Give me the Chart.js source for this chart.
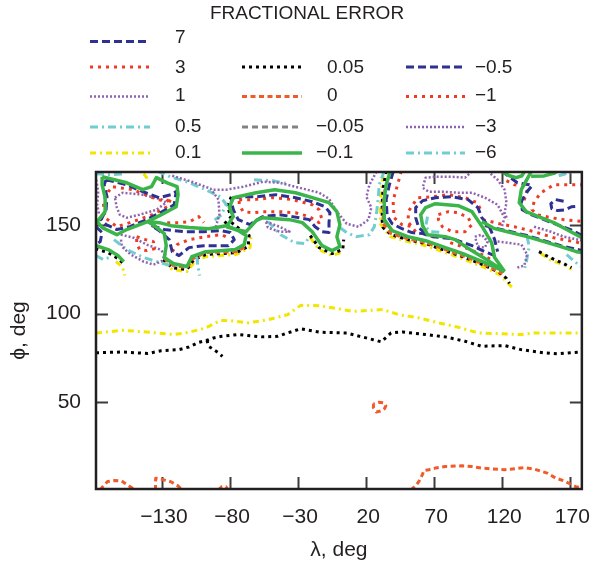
<!DOCTYPE html>
<html>
<head>
<meta charset="utf-8">
<script src="https://cdn.jsdelivr.net/npm/chart.js@4.4.0/dist/chart.umd.min.js"></script>
<style>
  html, body { margin: 0; padding: 0; background: #fff; }
  #wrap { width: 596px; height: 566px; }
</style>
</head>
<body>
<div id="wrap"><canvas id="chart" width="596" height="566"></canvas></div>
<script>
// Fractional error contours over (lambda, phi), degrees.

const lambdaTicks = [-130, -80, -30, 20, 70, 120, 170];
const phiTicks = [50, 100, 150];

// long open contours across the middle of the map
const line01Lam = [-178.5, -158.6, -139.2, -121.1, -110.2, -98.1, -87.2, -81.2, -66.7, -52.2, -37.8, -28.1, -13.6, 10.6, 32.3, 44.3, 58.8, 73.3, 87.8, 102.3, 119.3, 133.8, 143.4, 155.5, 178.5];
const line01Phi = [89.1, 90.6, 89.5, 88.2, 89.5, 91.9, 96.1, 96.2, 94.8, 96.6, 99.4, 104.7, 104.5, 101.3, 102.3, 99.4, 97.6, 94.8, 92.3, 89.1, 88.7, 88.2, 89.1, 89.1, 89.1];

const line005Lam = [-178.5, -158.6, -140.4, -130.7, -117.5, -110.2, -103.0, -95.7, -92.1, -86.1, -74.0, -57.1, -45.0, -37.8, -28.1, -13.6, 5.7, 15.4, 25.1, 31.1, 38.3, 46.8, 63.7, 78.2, 92.7, 104.8, 121.7, 133.8, 150.7, 160.3, 178.5];
const line005Phi = [77.9, 78.4, 77.5, 79.1, 79.7, 81.2, 83.8, 85.3, 86.3, 87.2, 88.2, 86.9, 87.2, 89.1, 91.5, 89.5, 89.1, 87.2, 85.3, 84.1, 89.1, 89.7, 88.2, 86.9, 84.4, 81.6, 82.0, 79.7, 77.9, 77.3, 78.4];
const spur005Lam = [-97.0, -95.7, -92.1, -88.5, -85.6];
const spur005Phi = [85.0, 81.6, 79.7, 77.9, 75.9];

// zero contour near the south edge and one small closed loop
const zeroLoop = [[25.5, 49.2], [25.3, 47.0], [27.5, 44.5], [30.5, 45.0], [33.5, 46.4], [34.5, 48.0], [32.5, 49.7], [29.5, 50.0], [27, 49.5], [25.5, 49.2]];
const zeroArcA = [[-175.5, 0.5], [-173, 2.8], [-170, 5.2], [-164.6, 5.8], [-159.7, 5.6], [-157.3, 4.3], [-152.5, 1.8], [-150, 0.5]];
const zeroArcB = [[-134.8, 0.5], [-134.8, 4.4], [-134.6, 7.1], [-131.5, 6.7], [-127, 5.8], [-123.5, 5.1], [-118.5, 2.9], [-115, 0.5]];
const zeroArcC = [[-88.5, 0.5], [-86, 2.3], [-83, 2.3], [-81.5, 0.5]];
const zeroArcD = [[52.8, 0.5], [56.4, 2.8], [58.8, 5.3], [61.3, 9.1], [62.5, 11.5], [66.1, 11.9], [70.9, 12.8], [78.2, 13.7], [90.3, 14.1], [97.5, 13.7], [104.8, 12.8], [112, 12.3], [121.7, 11.9], [131.3, 12.6], [136.2, 13.1], [143.4, 12.3], [148.3, 11.1], [153, 10.0], [159.1, 7.2], [165.1, 5.7], [171.2, 3.4], [174.8, 2.1], [178.5, 1.7]];
const zeroEdgeW = [[-128.3, 131.1], [-121.8, 127.2], [-111.7, 126.0], [-107.3, 131.1], [-97.9, 134.5], [-75.4, 135.0], [-67.5, 138.4]];
const zeroEdgeE = [[33.8, 170.0], [32.5, 161.5], [32.5, 151.0], [38.3, 145.2], [50.6, 142.3], [63.7, 140.1], [78.2, 136.2], [92.7, 132.2], [107.2, 127.7], [120.2, 122.6]];

// -0.1 (solid) cells along the north edge
const cellW1 = [[-174.0, 177.3], [-155.9, 173.9], [-144.2, 170.0], [-137.7, 171.7], [-134.1, 176.8], [-126.2, 173.9], [-118.9, 171.7], [-118.2, 167.2], [-119.6, 160.4], [-130.5, 155.9], [-140.6, 152.0], [-155.9, 147.5], [-163.2, 144.6], [-174.0, 148.6], [-177.6, 152.0], [-171.8, 157.6], [-171.8, 165.5], [-174.0, 172.8], [-174.0, 177.3]];
const cellW2 = [[-140.6, 152.0], [-132.0, 151.4], [-123.3, 149.7], [-110.2, 148.6], [-95.7, 148.0], [-82.7, 149.7], [-74.0, 146.9], [-68.2, 144.1], [-69.6, 139.0], [-76.2, 136.2], [-87.0, 135.6], [-97.9, 135.0], [-108.1, 132.2], [-111.7, 126.6], [-121.8, 128.3], [-128.3, 131.7], [-126.9, 138.4], [-128.3, 145.2], [-135.6, 149.7], [-140.6, 152.0]];
const cellW3 = [[-82.7, 149.1], [-77.6, 154.8], [-80.5, 159.9], [-77.6, 165.5], [-60.9, 168.3], [-47.2, 170.0], [-31.9, 168.3], [-19.6, 165.5], [-7.3, 162.7], [-1.5, 157.6], [0.7, 150.3], [-1.5, 143.5], [0.7, 137.9], [-5.1, 135.6], [-12.4, 138.4], [-19.6, 146.3], [-26.9, 151.4], [-36.3, 153.1], [-55.9, 154.2], [-60.9, 152.5], [-68.2, 146.3], [-75.4, 147.5], [-82.7, 149.1]];
const edgeW0 = [[-179, 138.6], [-169.6, 136.2], [-162.4, 132.8], [-158.1, 129.4]];
const cellE1 = [[37.8, 180.5], [34.7, 172.8], [33.3, 164.4], [33.3, 153.1], [39.1, 146.9], [50.6, 143.5], [63.7, 141.2], [78.2, 137.3], [92.7, 133.4], [107.2, 128.8], [121.7, 123.8]];
const cellE2 = [[121.7, 123.8], [114.4, 131.7], [112.2, 140.1], [105.7, 148.6], [97.8, 157.6], [87.6, 161.0], [70.9, 162.1], [63.7, 159.9], [60.1, 155.9], [61.5, 149.7], [65.1, 144.6], [78.2, 143.5], [85.4, 141.8], [96.3, 136.2], [110.8, 129.4], [121.7, 123.8]];
const cellE3 = [[105.0, 152.0], [114.4, 148.0], [123.8, 146.3], [138.3, 143.5], [150.7, 140.7], [163.0, 137.9], [174.5, 135.0], [179.5, 134.5]];
const cellE4 = [[141.5, 180.5], [134.0, 170.0], [132.5, 162.7], [137.6, 157.6], [148.5, 154.2], [157.9, 151.4], [167.3, 147.5], [179.5, 142.5]];
const cellE5 = [[119.5, 180.5], [125.3, 177.9], [130.3, 176.8], [134.5, 177.9], [136.5, 180.5]];
const cellE6 = [[141.2, 177.6], [150.7, 177.8], [157.9, 179.2], [160.5, 180.5]];

// 0.05 (black) and 0.1 (yellow) edges hugging the cells
const blackW1 = [[-179, 136.7], [-169.6, 134.5], [-162.4, 131.1], [-157.4, 127.7]];
const blackW2 = [[-129.1, 130.5], [-122.5, 126.0], [-111.7, 124.9], [-106.6, 130.5], [-97.9, 133.4], [-87.0, 133.9], [-75.4, 134.5], [-66.7, 137.9], [-66.0, 144.1], [-73.3, 148.0], [-79.8, 152.0]];
const blackW3 = [[-21.1, 144.1], [-14.6, 137.3], [-5.1, 133.9], [2.8, 136.2], [3.5, 141.8]];
const blackW4 = [[-79.1, 166.0], [-82.0, 160.4], [-79.1, 154.8], [-84.1, 150.8]];
const blackE1 = [[34.7, 180.5], [32.5, 171.1], [31.8, 162.7], [31.8, 152.0], [32.5, 148.6], [38.3, 144.6], [50.6, 141.8], [63.7, 139.6], [78.2, 135.6], [92.7, 131.7], [107.2, 127.2], [118.0, 123.2], [123.1, 119.9], [125.3, 117.1]];
const blackE2 = [[147.0, 135.0], [155.0, 131.7], [165.1, 128.3], [170.9, 126.0]];
const yellowW0 = [[-143.5, 179.0], [-141.3, 176.8], [-140.6, 174.5]];
const yellowW1 = [[-163.9, 129.4], [-160.3, 127.2], [-158.1, 124.4], [-157.4, 121.5]];
const yellowW2 = [[-129.1, 129.4], [-122.5, 124.9], [-111.7, 123.8], [-105.9, 129.4], [-97.9, 132.2], [-87.0, 132.8], [-75.4, 133.4], [-65.3, 137.3], [-64.6, 144.1]];
const yellowW3 = [[-21.1, 142.9], [-14.6, 136.2], [-5.1, 132.8], [3.5, 135.0]];
const yellowE1 = [[32.5, 177.9], [31.1, 168.9], [30.4, 160.4], [30.4, 150.8], [37.6, 143.5], [50.6, 140.7], [63.7, 138.4], [78.2, 134.5], [92.7, 130.5], [107.2, 126.0], [118.0, 122.1], [124.5, 117.0], [127.4, 114.7]];
const yellowE2 = [[148.5, 133.9], [156.4, 130.0], [166.6, 127.2], [170.9, 124.9]];

// -0.5 / 7 (blue dashed)
const blueW0 = [[-178.5, 149.1], [-174.0, 145.8], [-175.4, 140.7], [-178.5, 139.0]];
const blueW1 = [[-171.1, 175.6], [-155.9, 172.8], [-144.2, 168.9], [-132.0, 165.5], [-123.3, 167.2], [-119.6, 168.9], [-121.1, 161.5], [-129.8, 157.6], [-141.3, 153.1], [-153.7, 149.1], [-163.2, 147.5], [-171.1, 150.3], [-174.7, 153.1], [-171.1, 158.7], [-170.4, 166.0], [-172.5, 172.8], [-171.1, 175.6]];
const blueW2 = [[-137.7, 149.7], [-128.3, 147.5], [-113.8, 146.3], [-99.3, 146.3], [-87.0, 146.9], [-79.8, 145.8], [-76.9, 141.8], [-81.2, 138.4], [-99.3, 138.4], [-110.2, 137.3], [-117.5, 132.8], [-122.5, 135.0], [-124.7, 141.8], [-132.0, 146.9], [-137.7, 149.7]];
const blueW3 = [[-77.6, 165.5], [-70.4, 166.0], [-60.9, 166.0], [-46.4, 167.2], [-31.9, 165.5], [-19.6, 163.2], [-10.2, 160.4], [-6.6, 157.0], [-7.3, 151.4], [-7.3, 145.8], [-12.4, 146.3], [-17.5, 149.1], [-21.8, 153.1], [-34.1, 154.8], [-43.6, 155.9], [-55.9, 154.8], [-62.4, 152.0], [-65.3, 150.3], [-74.0, 153.1], [-77.6, 158.7], [-79.1, 163.2], [-77.6, 165.5]];
const blueE1 = [[40.0, 180.5], [36.9, 172.3], [34.7, 164.4], [35.4, 155.3], [39.1, 150.8], [46.3, 148.0], [53.5, 145.8], [61.5, 145.2], [68.8, 143.5], [83.3, 142.4], [97.8, 138.4], [107.2, 135.0], [114.4, 132.8]];
const blueE2 = [[63.7, 145.2], [58.6, 148.6], [56.4, 154.2], [56.4, 159.9], [61.5, 163.8], [70.9, 165.5], [83.3, 166.0], [94.9, 164.4], [102.1, 159.9], [105.0, 154.2], [110.8, 148.6], [114.4, 141.8], [116.6, 135.0]];
const blueE3 = [[119.5, 180.5], [131.1, 173.9], [139.8, 172.8], [141.9, 172.3], [137.6, 168.3], [134.0, 163.2], [134.7, 158.7], [141.2, 155.9], [150.7, 153.1], [160.1, 150.3], [170.2, 147.5], [179.5, 143.9]];
const blueE4 = [[107.2, 149.7], [123.1, 146.9], [138.3, 144.1], [150.7, 141.2], [163.0, 138.4], [179.5, 135.5]];
const peak7 = [[165.1, 163.5], [159.3, 164.4], [155.7, 162.1], [156.4, 159.3], [160.8, 158.2], [166.6, 158.7], [170.9, 160.4], [175.3, 160.7]];

// -1 / 3 (red dotted)
const redW1 = [[-166.0, 171.7], [-151.5, 170.0], [-137.0, 165.5], [-126.9, 163.2], [-123.3, 165.5], [-126.2, 160.4], [-137.0, 155.9], [-153.7, 151.4], [-163.2, 149.1], [-171.8, 154.2], [-173.2, 163.2], [-169.6, 168.9], [-166.0, 171.7]];
const redW2 = [[-126.2, 151.4], [-117.5, 151.4], [-109.5, 152.0], [-103.0, 154.8], [-99.3, 151.4]];
const redW3 = [[-148.6, 143.5], [-142.1, 141.8], [-136.3, 140.7], [-135.6, 136.7], [-141.3, 135.6], [-146.4, 136.2], [-148.6, 139.6], [-148.6, 143.5]];
const redW4 = [[-122.5, 135.0], [-118.9, 139.0], [-110.2, 141.8], [-97.9, 143.5], [-86.3, 144.6], [-81.2, 142.9]];
const redW5 = [[-73.3, 164.4], [-63.1, 164.4], [-48.6, 165.5], [-34.1, 164.4], [-19.6, 161.5], [-14.6, 158.7], [-12.4, 153.1], [-14.6, 151.4], [-21.8, 154.8], [-31.9, 157.0], [-43.6, 157.6], [-55.9, 157.6], [-63.1, 157.0], [-70.4, 157.6], [-73.3, 161.5], [-73.3, 164.4]];
const redE1 = [[45.8, 180.5], [42.7, 171.7], [39.8, 163.8], [40.5, 154.2], [46.3, 150.3], [54.3, 149.1]];
const redE2 = [[56.4, 146.3], [50.6, 152.0], [51.4, 158.2], [57.9, 165.5], [68.8, 166.0], [80.4, 167.2], [92.7, 165.5], [101.4, 162.7], [105.0, 157.6]];
const redE3 = [[73.1, 155.9], [80.4, 157.6], [87.6, 157.0], [94.9, 154.2], [97.8, 150.3], [92.7, 146.3], [83.3, 146.3], [76.0, 149.1], [73.1, 153.1], [73.1, 155.9]];
const redE4 = [[105.7, 153.1], [118.0, 150.8], [128.9, 149.1], [143.4, 146.3], [157.9, 142.9], [172.4, 140.7], [179.5, 139.6]];
const redE5 = [[81.8, 140.1], [92.7, 137.3], [105.0, 133.4], [113.0, 130.0]];
const redE6 = [[179.5, 172.8], [170.2, 172.8], [157.9, 172.8], [148.5, 168.3], [143.4, 163.2], [141.9, 158.7], [145.6, 155.9], [155.7, 154.2], [165.1, 153.1], [179.5, 152.0]];
const redE7 = [[123.1, 175.1], [128.9, 172.8], [137.6, 171.7], [138.3, 168.9], [136.2, 164.4], [134.7, 162.1]];

// -3 / 1 (purple dotted)
const purpleW0 = [[-178.3, 175.6], [-176.9, 168.9], [-177.6, 161.5], [-176.2, 155.9]];
const purpleW1 = [[-164.6, 165.5], [-158.8, 168.3], [-144.2, 167.2], [-129.8, 164.4], [-126.9, 162.7], [-134.1, 158.7], [-146.4, 155.9], [-155.9, 154.2], [-161.0, 155.9], [-163.2, 159.9], [-164.6, 165.5]];
const purpleW2 = [[-160.3, 144.6], [-150.8, 142.9], [-141.3, 139.0], [-131.2, 136.2], [-127.6, 133.4], [-130.5, 129.4], [-136.3, 127.7], [-143.5, 129.4], [-153.0, 133.4], [-159.5, 137.9], [-160.3, 142.9]];
const purpleW3 = [[-122.5, 177.9], [-108.1, 174.5], [-94.3, 170.6], [-88.5, 164.4], [-87.8, 155.9], [-90.7, 148.6]];
const purpleW4 = [[-92.1, 170.0], [-82.7, 170.0], [-70.4, 171.7], [-55.9, 174.5], [-43.6, 173.9], [-29.0, 171.1], [-14.6, 168.3], [-7.3, 164.9], [-1.5, 157.6], [5.7, 150.8], [14.4, 149.1], [21.7, 153.1], [23.8, 159.9], [20.2, 166.0], [22.4, 172.8], [27.8, 180.5]];
const purpleW5 = [[-53.7, 152.0], [-43.6, 149.1], [-36.3, 146.3], [-43.6, 146.3], [-52.2, 148.6], [-53.7, 152.0]];
const purpleE1 = [[97.8, 180.5], [92.7, 176.8], [83.3, 177.3], [70.9, 177.3], [63.7, 176.8], [61.5, 171.1], [65.9, 168.9], [76.0, 168.9], [87.6, 168.3], [97.8, 168.3], [107.2, 165.5], [116.6, 161.5], [121.7, 154.2], [119.5, 148.6]];
const purpleE2 = [[109.3, 180.5], [116.6, 175.6], [121.7, 170.0], [123.1, 162.7], [121.7, 157.0], [123.8, 153.1]];
const purpleE3 = [[99.9, 143.5], [105.0, 144.6], [109.3, 140.7], [107.2, 137.3], [102.1, 137.9], [99.9, 143.5]];
const purpleE4 = [[116.6, 140.7], [134.0, 139.0], [138.3, 133.4], [136.2, 127.2], [131.1, 126.0]];
const purpleE5 = [[143.4, 149.1], [155.7, 146.3], [165.1, 143.5], [179.5, 141.2]];

// -6 / 0.5 (cyan dash-dot)
const cyanW0 = [[-178.5, 179.0], [-168.2, 178.5], [-157.4, 179.0]];
const cyanW1 = [[-133.5, 180.5], [-124.0, 177.3], [-109.5, 173.9], [-97.9, 170.0], [-87.0, 166.0], [-82.7, 161.5], [-87.0, 155.3], [-92.1, 152.5]];
const cyanW2 = [[-165.3, 141.8], [-155.9, 136.2], [-143.5, 131.7], [-131.2, 128.8], [-121.1, 126.6]];
const cyanW3 = [[-178.5, 132.8], [-173.2, 130.5], [-168.9, 131.7]];
const cyanW4 = [[-104.4, 132.2], [-103.7, 127.2], [-102.3, 121.5]];
const cyanW5 = [[-52.2, 152.0], [-42.8, 144.6], [-32.7, 140.1], [-24.7, 139.6], [-21.8, 143.5]];
const cyanW6 = [[-62.4, 175.6], [-48.6, 175.1], [-37.8, 173.4]];
const cyanE1 = [[33.3, 180.5], [29.6, 172.8], [28.9, 165.5], [27.5, 155.9], [26.0, 149.1], [22.4, 144.6], [13.0, 143.5], [5.7, 145.8], [0.7, 148.6]];
const cyanE2 = [[65.1, 154.8], [63.7, 149.1], [67.3, 146.3], [76.7, 145.8]];
const cyanE3 = [[138.3, 143.5], [139.8, 137.9], [137.6, 128.8], [136.2, 124.9]];
const cyanE4 = [[167.3, 133.4], [172.4, 130.0], [177.5, 126.6]];
const cyanE5 = [[161.5, 177.9], [166.6, 179.0], [170.9, 179.7]];

const zip = (xs, ys) => xs.map((x, i) => [x, ys[i]]);

// first entry is painted last (on top)
const contours = [
  ['-0.1', cellW1], ['-0.1', cellW2], ['-0.1', cellW3], ['-0.1', edgeW0],
  ['-0.1', cellE1], ['-0.1', cellE2], ['-0.1', cellE3], ['-0.1', cellE4], ['-0.1', cellE5], ['-0.1', cellE6],
  ['-0.5', blueW0], ['-0.5', blueW1], ['-0.5', blueW2], ['-0.5', blueW3],
  ['-0.5', blueE1], ['-0.5', blueE2], ['-0.5', blueE3], ['-0.5', blueE4], ['7', peak7],
  ['-1', redW1], ['-1', redW2], ['-1', redW3], ['-1', redW4], ['-1', redW5],
  ['-1', redE1], ['-1', redE2], ['-1', redE3], ['-1', redE4], ['-1', redE5], ['-1', redE6], ['-1', redE7],
  ['-3', purpleW0], ['-3', purpleW1], ['-3', purpleW2], ['-3', purpleW3], ['-3', purpleW4], ['-3', purpleW5],
  ['-3', purpleE1], ['-3', purpleE2], ['-3', purpleE3], ['-3', purpleE4], ['-3', purpleE5],
  ['-6', cyanW0], ['-6', cyanW1], ['-6', cyanW2], ['-6', cyanW3], ['-6', cyanW4], ['-6', cyanW5], ['-6', cyanW6],
  ['-6', cyanE1], ['-6', cyanE2], ['-6', cyanE3], ['-6', cyanE4], ['-6', cyanE5],
  ['0', zeroLoop], ['0', zeroArcA], ['0', zeroArcB], ['0', zeroArcC], ['0', zeroArcD], ['0', zeroEdgeW], ['0', zeroEdgeE],
  ['0.05', zip(line005Lam, line005Phi)], ['0.05', zip(spur005Lam, spur005Phi)],
  ['0.05', blackW1], ['0.05', blackW2], ['0.05', blackW3], ['0.05', blackW4], ['0.05', blackE1], ['0.05', blackE2],
  ['0.1', zip(line01Lam, line01Phi)],
  ['0.1', yellowW0], ['0.1', yellowW1], ['0.1', yellowW2], ['0.1', yellowW3], ['0.1', yellowE1], ['0.1', yellowE2]
];

const STYLE = {
  '7':     { color: '#2e3192', dash: [8, 4], width: 3 },
  '3':     { color: '#ef3b24', dash: [3, 5], width: 3 },
  '1':     { color: '#9063b0', dash: [2, 2], width: 2.5 },
  '0.5':   { color: '#72cdd0', dash: [8, 4, 2, 4], width: 3 },
  '0.1':   { color: '#f2e600', dash: [6, 4, 2, 4], width: 3 },
  '0.05':  { color: '#000000', dash: [3, 4], width: 3 },
  '0':     { color: '#f15a29', dash: [5, 3.5], width: 3 },
  '-0.05': { color: '#808285', dash: [6, 4], width: 3 },
  '-0.1':  { color: '#3bb44a', dash: [], width: 3.5 },
  '-0.5':  { color: '#2e3192', dash: [8, 4], width: 3 },
  '-1':    { color: '#ef3b24', dash: [3, 5], width: 3 },
  '-3':    { color: '#9063b0', dash: [2, 2], width: 2.5 },
  '-6':    { color: '#72cdd0', dash: [8, 4, 2, 4], width: 3 }
};

const INK = '#231f20';
const FONT = "'Liberation Sans', Arial, Helvetica, sans-serif";
const fmt = (v) => (v < 0 ? '\u2212' + Math.abs(v) : String(v));

// legend: three columns; rows give line y and label y
const LEGEND_ROWS = [[41.5, 38], [67, 67.5], [96.5, 96], [127, 127], [153, 153]];
const LEGEND_COLS = [
  { x0: 90, x1: 150, tx: 175, start: 0, levels: ['7', '3', '1', '0.5', '0.1'] },
  { x0: 242, x1: 302, tx: 327, start: 1, levels: ['0.05', '0', '-0.05', '-0.1'] },
  { x0: 406, x1: 465, tx: 486, start: 1, levels: ['-0.5', '-1', '-3', '-6'] }
];

const frame = {
  id: 'frame',
  beforeDatasetsDraw(chart) {
    const { ctx, chartArea: a, scales: { x, y } } = chart;
    ctx.save();
    ctx.strokeStyle = '#3c3c3c';
    ctx.lineWidth = 2;
    ctx.beginPath();
    lambdaTicks.forEach(v => {
      const px = Math.round(x.getPixelForValue(v)) + 0.5;
      ctx.moveTo(px, a.bottom); ctx.lineTo(px, a.bottom - 12);
      ctx.moveTo(px, a.top); ctx.lineTo(px, a.top + 12);
    });
    phiTicks.forEach(v => {
      const py = Math.round(y.getPixelForValue(v)) + 0.5;
      ctx.moveTo(a.left, py); ctx.lineTo(a.left + 12, py);
      ctx.moveTo(a.right, py); ctx.lineTo(a.right - 12, py);
    });
    ctx.stroke();
    ctx.restore();
  },
  afterDatasetsDraw(chart) {
    const { ctx, chartArea: a } = chart;
    ctx.save();
    ctx.strokeStyle = INK;
    ctx.lineWidth = 2.5;
    ctx.strokeRect(a.left, a.top, a.right - a.left, a.bottom - a.top);
    ctx.restore();
  },
  afterDraw(chart) {
    const ctx = chart.ctx;
    ctx.save();
    ctx.fillStyle = INK;
    ctx.textBaseline = 'middle';
    ctx.textAlign = 'center';
    ctx.font = '19px ' + FONT;
    ctx.fillText('FRACTIONAL ERROR', 307, 14);
    ctx.textAlign = 'left';
    LEGEND_COLS.forEach(col => {
      col.levels.forEach((lvl, i) => {
        const st = STYLE[lvl];
        const [ly, ty] = LEGEND_ROWS[col.start + i];
        ctx.strokeStyle = st.color;
        ctx.lineWidth = st.width;
        ctx.setLineDash(st.dash);
        ctx.lineCap = 'butt';
        ctx.beginPath();
        ctx.moveTo(col.x0, ly);
        ctx.lineTo(col.x1, ly);
        ctx.stroke();
        const label = fmt(parseFloat(lvl));
        let tx = col.tx;
        if (label.startsWith('\u2212')) tx -= ctx.measureText('\u2212').width;
        ctx.fillText(label, tx, ty);
      });
    });
    ctx.restore();
  }
};

Chart.defaults.font.family = FONT;
Chart.defaults.color = INK;

new Chart(document.getElementById('chart'), {
  type: 'scatter',
  data: {
    datasets: contours.map(([lvl, pts]) => ({
      label: lvl,
      data: pts.map(([x, y]) => ({ x, y })),
      showLine: true,
      pointRadius: 0,
      pointHoverRadius: 0,
      borderColor: STYLE[lvl].color,
      borderDash: STYLE[lvl].dash,
      borderWidth: STYLE[lvl].width,
      borderCapStyle: 'butt',
      borderJoinStyle: 'round',
      tension: 0,
      fill: false,
      clip: 0
    }))
  },
  options: {
    responsive: false,
    animation: false,
    devicePixelRatio: 1,
    events: [],
    layout: { padding: { top: 172, right: 8, left: 0, bottom: 0 } },
    plugins: { legend: { display: false }, tooltip: { enabled: false } },
    scales: {
      x: {
        type: 'linear',
        min: -178.5,
        max: 178.5,
        grid: { display: false },
        border: { display: false },
        afterBuildTicks: (s) => { s.ticks = lambdaTicks.map(v => ({ value: v })); },
        afterFit: (s) => { s.height = 77; },
        ticks: { font: { size: 21 }, color: INK, padding: 8, maxRotation: 0, autoSkip: false, labelOffset: 2, callback: fmt },
        title: { display: true, text: '\u03bb, deg', font: { size: 21 }, color: INK, padding: { top: 0, bottom: 3 } }
      },
      y: {
        type: 'linear',
        min: 1,
        max: 180,
        grid: { display: false },
        border: { display: false },
        afterBuildTicks: (s) => { s.ticks = phiTicks.map(v => ({ value: v })); },
        afterFit: (s) => { s.width = 96; },
        ticks: { font: { size: 21 }, color: INK, padding: 7, autoSkip: false, callback: fmt },
        title: { display: true, text: '\u03d5, deg', font: { size: 21 }, color: INK, padding: { top: 7, bottom: 0 } }
      }
    }
  },
  plugins: [frame]
});
</script>
</body>
</html>
